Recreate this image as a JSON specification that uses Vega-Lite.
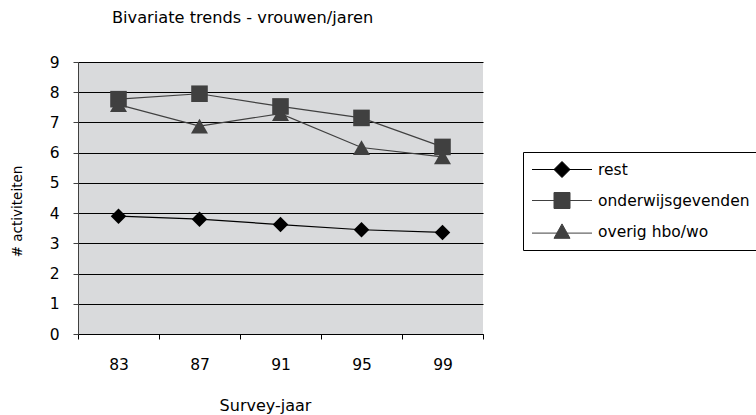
{
  "$schema": "https://vega.github.io/schema/vega-lite/v6.json",
  "width": 405,
  "height": 272,
  "autosize": {"type": "none"},
  "padding": {"left": 78, "top": 62, "right": 273, "bottom": 81},
  "background": "white",
  "config": {
    "font": "DejaVu Sans",
    "view": {"fill": "#d9dadc", "stroke": null},
    "axis": {"labelFontSize": 15.5, "labelColor": "#000", "titleFontSize": 16, "titleFontWeight": "normal", "titleColor": "#000"},
    "legend": {
      "orient": "none", "legendX": 445, "legendY": 90, "title": null,
      "strokeColor": "#000", "fillColor": "white", "padding": 9,
      "symbolSize": 256, "symbolStrokeWidth": 1, "symbolOffset": 21.5,
      "labelOffset": 27.5, "labelFontSize": 15.5, "labelColor": "#000", "labelLimit": 0,
      "rowPadding": 10
    }
  },
  "title": {"text": "Bivariate trends - vrouwen/jaren", "anchor": "start", "frame": "group", "dx": 34, "offset": 29, "fontSize": 16.2, "fontWeight": "normal", "color": "#000"},
  "data": {
    "values": [
      {"jaar": "83", "groep": "rest", "waarde": 3.90},
      {"jaar": "87", "groep": "rest", "waarde": 3.80},
      {"jaar": "91", "groep": "rest", "waarde": 3.62},
      {"jaar": "95", "groep": "rest", "waarde": 3.45},
      {"jaar": "99", "groep": "rest", "waarde": 3.36},
      {"jaar": "83", "groep": "onderwijsgevenden", "waarde": 7.77},
      {"jaar": "87", "groep": "onderwijsgevenden", "waarde": 7.95},
      {"jaar": "91", "groep": "onderwijsgevenden", "waarde": 7.53},
      {"jaar": "95", "groep": "onderwijsgevenden", "waarde": 7.15},
      {"jaar": "99", "groep": "onderwijsgevenden", "waarde": 6.19},
      {"jaar": "83", "groep": "overig hbo/wo", "waarde": 7.59},
      {"jaar": "87", "groep": "overig hbo/wo", "waarde": 6.88},
      {"jaar": "91", "groep": "overig hbo/wo", "waarde": 7.29},
      {"jaar": "95", "groep": "overig hbo/wo", "waarde": 6.17},
      {"jaar": "99", "groep": "overig hbo/wo", "waarde": 5.86}
    ]
  },
  "encoding": {
    "x": {
      "field": "jaar", "type": "ordinal", "sort": null,
      "scale": {"type": "band", "paddingInner": 0, "paddingOuter": 0},
      "axis": {"title": "Survey-jaar", "titleX": 187, "titleY": 71, "titleBaseline": "middle", "labelAngle": 0, "tickBand": "extent", "tickSize": 5, "tickColor": "#000", "domainColor": "#000", "labelPadding": 18, "grid": false}
    },
    "y": {
      "field": "waarde", "type": "quantitative",
      "scale": {"domain": [0, 9], "nice": false},
      "axis": {"title": "# activiteiten", "titleFontSize": 13.5, "values": [0,1,2,3,4,5,6,7,8,9], "grid": true, "gridColor": "#000", "gridWidth": 1.2, "gridOpacity": 1, "domainColor": "#404040", "tickColor": "#404040", "tickSize": 5, "labelPadding": 14, "titleX": -61, "titleY": 149, "titleAlign": "center", "titleBaseline": "middle", "titleAngle": 270}
    },
    "color": {
      "field": "groep", "type": "nominal",
      "scale": {"domain": ["rest", "onderwijsgevenden", "overig hbo/wo"], "range": ["#000000", "#404040", "#404040"]}
    }
  },
  "layer": [
    {"mark": {"type": "line", "strokeWidth": 1.2}},
    {
      "transform": [{"filter": "datum.groep === 'rest'"}],
      "mark": {"type": "point", "filled": true, "opacity": 1, "size": 240, "shape": "diamond"}
    },
    {
      "transform": [{"filter": "datum.groep === 'onderwijsgevenden'"}],
      "mark": {"type": "point", "filled": true, "opacity": 1, "size": 275, "shape": "square"}
    },
    {
      "transform": [{"filter": "datum.groep === 'overig hbo/wo'"}],
      "mark": {"type": "point", "filled": true, "opacity": 1, "size": 290, "shape": "triangle-up"}
    },
    {
      "transform": [{"filter": "false"}],
      "mark": {"type": "point", "filled": true, "opacity": 1, "strokeWidth": 1},
      "encoding": {
        "shape": {
          "field": "groep", "type": "nominal",
          "scale": {"domain": ["rest", "onderwijsgevenden", "overig hbo/wo"], "range": ["M-3.75,0H3.75M-1,0L0,-1L1,0L0,1Z", "M-3.75,0H3.75M-1,-1H1V1H-1Z", "M-3.75,0.2H3.75M-1,0.85H1L0,-0.95Z"]}
        },
        "stroke": {
          "field": "groep", "type": "nominal",
          "scale": {"domain": ["rest", "onderwijsgevenden", "overig hbo/wo"], "range": ["#000000", "#404040", "#404040"]}
        }
      }
    }
  ]
}
